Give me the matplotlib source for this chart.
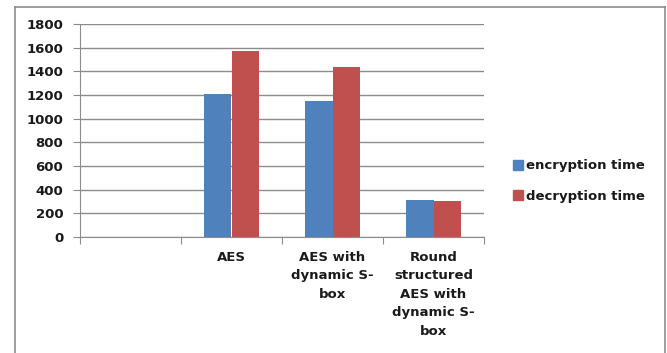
import numpy as np
import matplotlib.pyplot as plt
from matplotlib.patches import Patch
from matplotlib.lines import Line2D

# encryption / decryption time for each AES variant
categories = ['', 'AES', 'AES with\ndynamic S-\nbox',
              'Round\nstructured\nAES with\ndynamic S-\nbox']
enc_time = [np.nan, 1210, 1150, 315]
dec_time = [np.nan, 1570, 1440, 305]

blue = '#4f81bd'
red = '#c0504d'
grid_col = '#8c8c8c'
txt_col = '#1a1a1a'

plt.rcParams['font.family'] = ['DejaVu Sans']

fig = plt.figure(figsize=(6.67, 3.53), dpi=100)
W, H = 667, 353
ax = fig.add_axes([80 / W, 1 - 237 / H, (484 - 80) / W, (237 - 24) / H])

x = np.arange(len(categories))
bw = 0.277
ax.bar(x - bw / 2, enc_time, bw, color=blue, label='encryption time')
ax.bar(x + bw / 2, dec_time, bw, color=red, label='decryption time')

ax.set_xlim(-0.5, len(categories) - 0.5)
ax.set_ylim(0, 1800)
ax.set_yticks(np.arange(0, 1801, 200))
ax.yaxis.grid(True, color=grid_col, linewidth=1)
ax.set_axisbelow(True)

# category boundary ticks, labels centred under each group
ax.set_xticks(np.arange(-0.5, len(categories)))
ax.set_xticklabels([])
ax.set_xticks(x, minor=True)
ax.set_xticklabels(categories, minor=True, fontsize=9.5, fontweight='bold',
                   color=txt_col, linespacing=1.55, va='top')
ax.tick_params(axis='x', which='minor', length=0, pad=10)
ax.tick_params(axis='x', which='major', length=5, color=grid_col, direction='out')
ax.tick_params(axis='y', length=5, color=grid_col, labelsize=9.5, pad=7,
               labelcolor=txt_col)
for lab in ax.get_yticklabels():
    lab.set_fontweight('bold')

for s in ['top', 'right']:
    ax.spines[s].set_visible(False)
for s in ['left', 'bottom']:
    ax.spines[s].set_color(grid_col)

handles = [Patch(color=blue), Patch(color=red)]
leg = fig.legend(handles, ['encryption time', 'decryption time'],
                 loc='center left', bbox_to_anchor=(501 / W, 1 - 181 / H),
                 frameon=False, prop={'weight': 'bold', 'size': 9.5},
                 handlelength=0.75, handleheight=0.75, handletextpad=0.25,
                 labelspacing=1.3)
for t in leg.get_texts():
    t.set_color(txt_col)

# outer chart frame
frame = dict(color='#8c8c8c', linewidth=1.2, transform=fig.transFigure)
fig.add_artist(Line2D([15 / W, 15 / W], [0, 1 - 7 / H], **frame))
fig.add_artist(Line2D([665 / W, 665 / W], [0, 1 - 7 / H], **frame))
fig.add_artist(Line2D([15 / W, 665 / W], [1 - 7 / H, 1 - 7 / H], **frame))

fig.savefig('out.png', dpi=100)
